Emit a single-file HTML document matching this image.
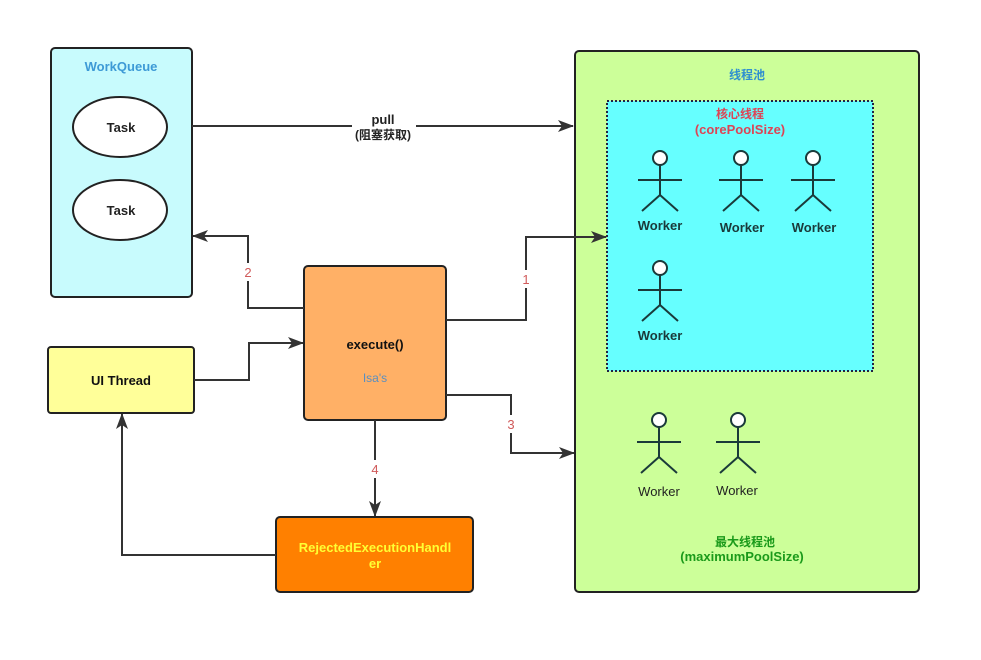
<!DOCTYPE html>
<html><head><meta charset="utf-8"><style>
html,body{margin:0;padding:0;background:#fff;}
svg text{font-family:"Liberation Sans","Noto Sans CJK SC",sans-serif;}
</style></head><body>
<svg width="981" height="655" viewBox="0 0 981 655" xmlns="http://www.w3.org/2000/svg">
<defs>
<marker id="a" markerWidth="16" markerHeight="12" refX="15" refY="6" orient="auto" markerUnits="userSpaceOnUse">
<path d="M0,0 L16,6 L0,12 L4,6 Z" fill="#333"/></marker>
<g id="w" stroke="#1a3a3a" stroke-width="2" fill="none">
<circle cx="0" cy="0" r="7" fill="#fff"/>
<line x1="0" y1="7" x2="0" y2="37"/>
<line x1="-22" y1="22" x2="22" y2="22"/>
<line x1="0" y1="37" x2="-18" y2="53"/>
<line x1="0" y1="37" x2="18" y2="53"/>
</g>
</defs>
<rect x="51" y="48" width="141" height="249" rx="4" fill="#c8fbfd" stroke="#222" stroke-width="2"/>
<text x="121" y="71" text-anchor="middle" font-size="13" font-weight="bold" fill="#3d9ad6">WorkQueue</text>
<ellipse cx="120" cy="127" rx="47" ry="30" fill="#fff" stroke="#222" stroke-width="2"/>
<text x="121" y="132" text-anchor="middle" font-size="13" font-weight="bold" fill="#222">Task</text>
<ellipse cx="120" cy="210" rx="47" ry="30" fill="#fff" stroke="#222" stroke-width="2"/>
<text x="121" y="215" text-anchor="middle" font-size="13" font-weight="bold" fill="#222">Task</text>
<rect x="575" y="51" width="344" height="541" rx="4" fill="#ccff99" stroke="#222" stroke-width="2"/>
<text x="747" y="79" text-anchor="middle" font-size="12" font-weight="bold" fill="#2f8fd0">线程池</text>
<rect x="607" y="101" width="266" height="270" fill="#66ffff" stroke="#224" stroke-width="2" stroke-dasharray="2,2"/>
<text x="740" y="118" text-anchor="middle" font-size="12" font-weight="bold" fill="#dd4455">核心线程</text>
<text x="740" y="134" text-anchor="middle" font-size="13" font-weight="bold" fill="#dd4455">(corePoolSize)</text>
<use href="#w" x="660" y="158"/><use href="#w" x="741" y="158"/><use href="#w" x="813" y="158"/><use href="#w" x="660" y="268"/>
<g font-size="13" font-weight="bold" fill="#1a3a3a" text-anchor="middle">
<text x="660" y="230">Worker</text><text x="742" y="232">Worker</text><text x="814" y="232">Worker</text><text x="660" y="340">Worker</text>
</g>
<use href="#w" x="659" y="420"/><use href="#w" x="738" y="420"/>
<g font-size="13" fill="#222" text-anchor="middle"><text x="659" y="496">Worker</text><text x="737" y="495">Worker</text></g>
<text x="745" y="546" text-anchor="middle" font-size="12" font-weight="bold" fill="#1a9a1a">最大线程池</text>
<text x="742" y="561" text-anchor="middle" font-size="13" font-weight="bold" fill="#1a9a1a">(maximumPoolSize)</text>
<rect x="304" y="266" width="142" height="154" rx="4" fill="#ffb066" stroke="#222" stroke-width="2"/>
<text x="375" y="349" text-anchor="middle" font-size="13" font-weight="bold" fill="#111">execute()</text>
<text x="375" y="382" text-anchor="middle" font-size="12" fill="#5a8fc0">Isa's</text>
<rect x="48" y="347" width="146" height="66" rx="3" fill="#ffff99" stroke="#222" stroke-width="2"/>
<text x="121" y="385" text-anchor="middle" font-size="13" font-weight="bold" fill="#111">UI Thread</text>
<rect x="276" y="517" width="197" height="75" rx="4" fill="#ff8000" stroke="#222" stroke-width="2"/>
<text x="375" y="552" text-anchor="middle" font-size="13" font-weight="bold" fill="#ffff33">RejectedExecutionHandl</text>
<text x="375" y="568" text-anchor="middle" font-size="13" font-weight="bold" fill="#ffff33">er</text>
<g stroke="#333" stroke-width="2" fill="none">
<path d="M192,126 H573" marker-end="url(#a)"/>
<path d="M304,308 H248 V236 H193" marker-end="url(#a)"/>
<path d="M446,320 H526 V237 H606" marker-end="url(#a)"/>
<path d="M194,380 H249 V343 H303" marker-end="url(#a)"/>
<path d="M446,395 H511 V453 H574" marker-end="url(#a)"/>
<path d="M375,420 V516" marker-end="url(#a)"/>
<path d="M276,555 H122 V414" marker-end="url(#a)"/>
</g>
<rect x="352" y="110" width="64" height="32" fill="#fff"/>
<text x="383" y="124" text-anchor="middle" font-size="13" font-weight="bold" fill="#222">pull</text>
<text x="383" y="139" text-anchor="middle" font-size="12" font-weight="bold" fill="#222">(阻塞获取)</text>
<g font-size="13" fill="#d05a5a" text-anchor="middle">
<rect x="241" y="263" width="14" height="18" fill="#fff"/><text x="248" y="277">2</text>
<rect x="519" y="270" width="14" height="18" fill="#fff"/><text x="526" y="284">1</text>
<rect x="504" y="415" width="14" height="18" fill="#fff"/><text x="511" y="429">3</text>
<rect x="368" y="460" width="14" height="18" fill="#fff"/><text x="375" y="474">4</text>
</g>
</svg>
</body></html>
